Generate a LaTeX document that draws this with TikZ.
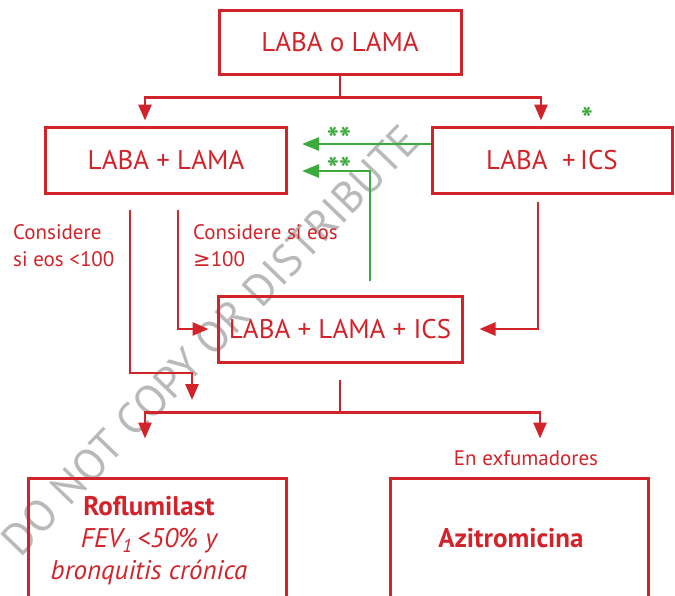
\documentclass[tikz,border=0pt]{standalone}
\usepackage{fontspec}
\setmainfont{PT Sans}
\newfontfamily\symbfont{DejaVu Sans}
\usetikzlibrary{arrows.meta}
\definecolor{gesRed}{RGB}{210,35,42}
\definecolor{gesGreen}{RGB}{60,170,60}
\tikzset{
  drug/.style={draw=gesRed, line width=3pt, text=gesRed, font=\fontsize{27}{32}\selectfont, inner sep=0pt},
  drugtext/.style={text=gesRed, font=\fontsize{27}{32}\selectfont, align=center, inner sep=0pt},
  redline/.style={draw=gesRed, line width=2.8pt},
  redarrow/.style={redline, -{Triangle[length=16pt,width=13pt]}},
  greenarrow/.style={draw=gesGreen, line width=2.8pt, -{Triangle[length=17pt,width=13pt]}},
  note/.style={text=gesRed, font=\fontsize{21}{27}\selectfont, align=left, inner sep=0pt},
  stars/.style={text=gesGreen, font=\bfseries\fontsize{32}{32}\selectfont, inner sep=0pt, anchor=north}
}

\begin{document}
\begin{tikzpicture}[x=1pt,y=-1pt]
\useasboundingbox (0,0) rectangle (675,595);
% watermark
\node[rotate=46, text=gray!55, font=\fontsize{44}{44}\selectfont] (stamp) at (210,340) {DO NOT COPY OR DISTRIBUTE};

% row1
\node[drug, minimum width=242pt, minimum height=64pt] (mono) at (340,42) {LABA o LAMA};
% row2
\node[drug, minimum width=241pt, minimum height=66pt] (dual) at (166,160) {LABA + LAMA};
\node[drug, minimum width=240pt, minimum height=66pt] (icscomb) at (552,160) {LABA \ +\,ICS};
% row3
\node[drug, minimum width=244pt, minimum height=66pt] (triple) at (340,329) {LABA + LAMA + ICS};
% row4
\node[drug, minimum width=258pt, minimum height=124pt] (roflubox) at (157,540) {};
\node[drugtext] (roflu) at (149,541) {{\bfseries Roflumilast}\\{\itshape FEV\textsubscript{1}\,<50\% y}\\{\itshape bronquitis crónica}};
\node[drug, minimum width=258pt, minimum height=124pt] (azibox) at (519,540) {};
\node[drugtext] (azi) at (511,538) {\bfseries Azitromicina};

% labels
\node[note, anchor=west] (loweos) at (13,246) {Considere\\si eos <100};
\node[note, anchor=west] (higheos) at (193,246) {Considere si eos\\{\symbfont ≥}100};
\node[note] (exsmoker) at (526,458) {En exfumadores};
\node[stars] (icsstar) at (587,107) {*};
\node[stars] (stepone) at (339,127) {**};
\node[stars] (steptwo) at (339,157) {**};

% top split
\draw[redline] (mono.south) -- ++(0,22) coordinate (topsplit);
\draw[redarrow] (topsplit) -| ([xshift=-21pt,yshift=5pt]dual.north);
\draw[redarrow] (topsplit) -| ([xshift=-11pt,yshift=5pt]icscomb.north);

% escalation
\coordinate (joinpt) at (192,400);
\draw[redarrow] ([xshift=-36pt,yshift=-15pt]dual.south) |- ([yshift=27pt]joinpt) -- (joinpt);
\draw[redarrow] ([xshift=12pt,yshift=-15pt]dual.south) |- ([xshift=-8pt]triple.west);
\draw[redarrow] ([xshift=-14pt,yshift=-7pt]icscomb.south) |- ([xshift=16pt]triple.east);

% de-escalation
\draw[greenarrow] ([yshift=16pt]icscomb.west) -- ([xshift=14pt,yshift=16pt]dual.east);
\draw[greenarrow] ([xshift=30pt,yshift=14pt]triple.north) |- ([xshift=14pt,yshift=-11pt]dual.east);

% bottom split
\draw[redline] ([yshift=-16pt]triple.south) -- ++(0,33) coordinate (botsplit);
\draw[redarrow] (botsplit) -| ([xshift=-12pt,yshift=38pt]roflubox.north);
\draw[redarrow] (botsplit) -| ([xshift=21pt,yshift=38pt]azibox.north);
\end{tikzpicture}
\end{document}
